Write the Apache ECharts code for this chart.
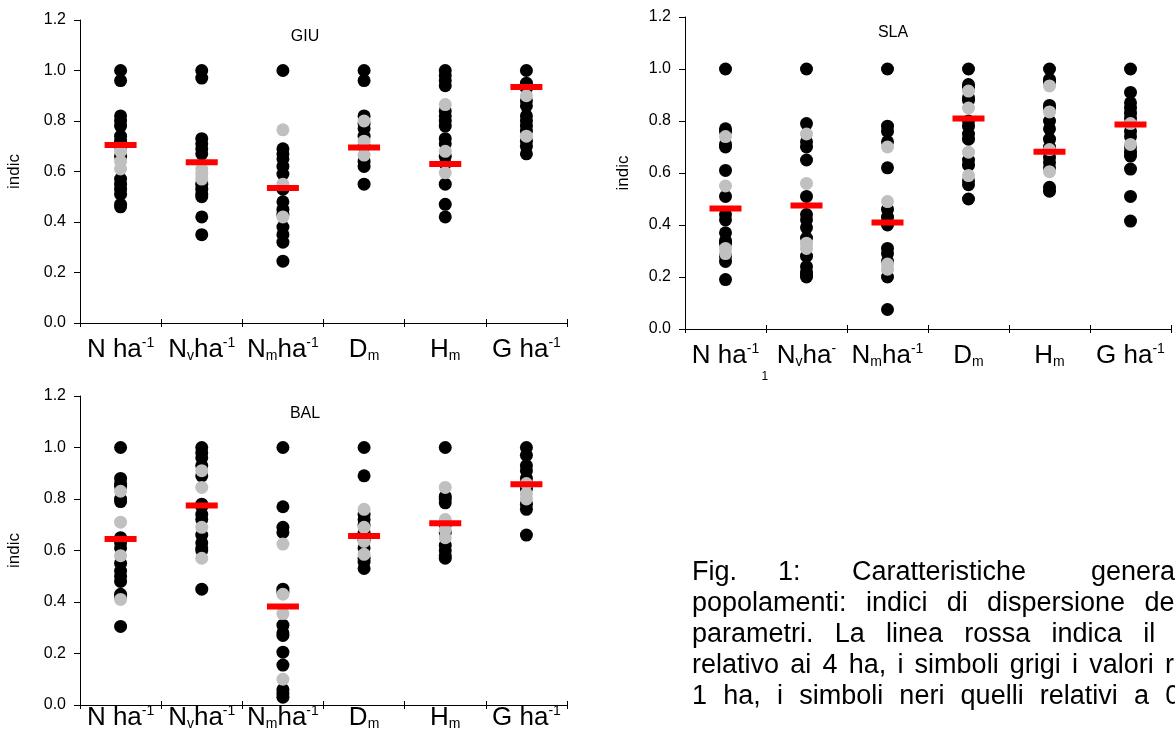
<!DOCTYPE html>
<html>
<head>
<meta charset="utf-8">
<script src="https://cdn.jsdelivr.net/npm/echarts@6/dist/echarts.min.js"></script>
<style>
html, body { margin: 0; padding: 0; background: #fff; overflow: hidden; width: 1175px; height: 733px; }
#chart { position: absolute; left: 0; top: 0; width: 1175px; height: 733px; }
#caption { position: absolute; left: 692px; top: 556px; width: 600px; font-family: "Liberation Sans", Arial, sans-serif; font-size: 27px; line-height: 31px; color: #000; }
#caption .ln { position: relative; height: 31px; white-space: nowrap; }
#caption .w { position: absolute; top: 0; }
</style>
</head>
<body>
<div id="chart"></div>
<div id="caption">
  <div class="ln"><span class="w" style="left:0">Fig.</span><span class="w" style="left:86px">1:</span><span class="w" style="left:160px">Caratteristiche</span><span class="w" style="left:399px">generali</span></div>
  <div class="ln" style="word-spacing:11.8px">popolamenti: indici di dispersione dei</div>
  <div class="ln" style="word-spacing:13.7px">parametri. La linea rossa indica il valore</div>
  <div class="ln" style="word-spacing:3.7px">relativo ai 4 ha, i simboli grigi i valori relativi</div>
  <div class="ln" style="word-spacing:8.7px">1 ha, i simboli neri quelli relativi a 0</div>
</div>
<script>
// ---------- data ----------
const categories = ['N ha-1', 'Nv ha-1', 'Nm ha-1', 'Dm', 'Hm', 'G ha-1'];
const panelTitles = ['GIU', 'SLA', 'BAL'];
const yTickValues = [0, 0.2, 0.4, 0.6, 0.8, 1.0, 1.2];

// GIU (black = 0.25 ha, grey = 1 ha, red = 4 ha)
const giuBlack = [
  [1.0, 0.96, 0.82, 0.80, 0.78, 0.74, 0.72, 0.70, 0.66, 0.57, 0.55, 0.53, 0.51, 0.47, 0.46],
  [1.0, 0.97, 0.73, 0.71, 0.69, 0.67, 0.55, 0.53, 0.51, 0.50, 0.42, 0.35],
  [1.0, 0.69, 0.67, 0.65, 0.62, 0.59, 0.53, 0.48, 0.45, 0.43, 0.38, 0.35, 0.32, 0.245],
  [1.0, 0.96, 0.82, 0.79, 0.77, 0.74, 0.70, 0.64, 0.62, 0.55],
  [1.0, 0.98, 0.96, 0.94, 0.84, 0.82, 0.80, 0.78, 0.73, 0.71, 0.66, 0.63, 0.55, 0.47, 0.42],
  [1.0, 0.95, 0.93, 0.88, 0.86, 0.82, 0.80, 0.78, 0.76, 0.72, 0.70, 0.67]
];
const giuGrey = [
  [0.68, 0.64, 0.61],
  [0.61, 0.59, 0.57],
  [0.765, 0.55, 0.42],
  [0.80, 0.72, 0.665],
  [0.865, 0.68, 0.595],
  [0.90, 0.74]
];
const giuRed = [0.705, 0.637, 0.535, 0.695, 0.630, 0.935];

// SLA
const slaBlack = [
  [1.0, 0.77, 0.76, 0.71, 0.70, 0.61, 0.51, 0.44, 0.42, 0.37, 0.34, 0.33, 0.28, 0.26, 0.19],
  [1.0, 0.79, 0.72, 0.70, 0.65, 0.51, 0.44, 0.42, 0.39, 0.35, 0.28, 0.24, 0.22, 0.21, 0.20],
  [1.0, 0.78, 0.76, 0.72, 0.62, 0.46, 0.43, 0.40, 0.31, 0.29, 0.26, 0.20, 0.075],
  [1.0, 0.94, 0.93, 0.89, 0.88, 0.80, 0.78, 0.75, 0.73, 0.65, 0.63, 0.57, 0.555, 0.50],
  [1.0, 0.96, 0.95, 0.86, 0.85, 0.80, 0.77, 0.73, 0.70, 0.66, 0.64, 0.62, 0.545, 0.53],
  [1.0, 0.91, 0.87, 0.85, 0.83, 0.81, 0.76, 0.74, 0.70, 0.68, 0.665, 0.615, 0.51, 0.415]
];
const slaGrey = [
  [0.74, 0.55, 0.31, 0.29],
  [0.75, 0.56, 0.33, 0.31],
  [0.70, 0.49, 0.25, 0.23],
  [0.915, 0.85, 0.68, 0.59],
  [0.935, 0.835, 0.69, 0.605],
  [0.79, 0.71]
];
const slaRed = [0.463, 0.475, 0.410, 0.810, 0.682, 0.787];

// BAL
const balBlack = [
  [1.0, 0.88, 0.86, 0.85, 0.80, 0.79, 0.65, 0.63, 0.61, 0.55, 0.52, 0.50, 0.48, 0.43, 0.42, 0.305],
  [1.0, 0.98, 0.96, 0.93, 0.89, 0.78, 0.77, 0.74, 0.72, 0.66, 0.63, 0.61, 0.60, 0.45],
  [1.0, 0.77, 0.69, 0.67, 0.45, 0.44, 0.31, 0.28, 0.27, 0.205, 0.155, 0.06, 0.045, 0.03],
  [1.0, 0.89, 0.74, 0.72, 0.70, 0.67, 0.64, 0.61, 0.57, 0.555, 0.53],
  [1.0, 0.81, 0.80, 0.785, 0.70, 0.67, 0.62, 0.60, 0.58, 0.57],
  [1.0, 0.97, 0.93, 0.91, 0.88, 0.86, 0.84, 0.78, 0.76, 0.66]
];
const balGrey = [
  [0.83, 0.71, 0.58, 0.41],
  [0.91, 0.845, 0.69, 0.57],
  [0.625, 0.43, 0.355, 0.10],
  [0.76, 0.69, 0.635, 0.585],
  [0.845, 0.72, 0.68, 0.65],
  [0.86, 0.82, 0.80]
];
const balRed = [0.645, 0.775, 0.383, 0.656, 0.706, 0.857];

// category label markup (sub/superscripts)
const labelsStd = ['{n|N ha}{p|-1}', '{n|N}{s|v}{n|ha}{p|-1}', '{n|N}{s|m}{n|ha}{p|-1}', '{n|D}{s|m}', '{n|H}{s|m}', '{n|G ha}{p|-1}'];
const labelsSla = ['{n|N ha}{p|-1}', '{n|N}{s|v}{n|ha}{p|-}\n{q|1}', '{n|N}{s|m}{n|ha}{p|-1}', '{n|D}{s|m}', '{n|H}{s|m}', '{n|G ha}{p|-1}'];

// ---------- chart ----------
const FONT = "'Liberation Sans', Arial, sans-serif";
const NARROW = "'Liberation Sans Narrow', 'Liberation Sans', Arial, sans-serif";
const AXIS_COLOR = '#000';

const grids = [
  { left: 80, top: 20, width: 487, height: 303 },
  { left: 685, top: 17, width: 486, height: 312 },
  { left: 80, top: 396, width: 487, height: 309 }
];
const labelMargins = [12, 12, -2];
const labelSets = [labelsStd, labelsSla, labelsStd];
const blacks = [giuBlack, slaBlack, balBlack];
const greys = [giuGrey, slaGrey, balGrey];
const reds = [giuRed, slaRed, balRed];
const titlePos = [[300, 24], [888, 20], [300, 401]];
const nameGaps = [57, 53, 57];

function toPoints(groups) {
  const out = [];
  groups.forEach((vals, i) => vals.forEach(v => out.push([i, v])));
  return out;
}

const rich = {
  n: { fontSize: 26, fontFamily: NARROW, color: '#000', lineHeight: 30 },
  p: { fontSize: 14, fontFamily: NARROW, color: '#000', padding: [0, 0, 14, 0] },
  s: { fontSize: 14, fontFamily: NARROW, color: '#000', padding: [12, 0, 0, 0] },
  q: { fontSize: 12, fontFamily: NARROW, color: '#000', width: 90, align: 'left', lineHeight: 12 }
};

const xAxes = [], yAxes = [], series = [], titles = [];
grids.forEach((g, k) => {
  xAxes.push({
    gridIndex: k, type: 'category', data: categories, boundaryGap: true,
    axisLine: { lineStyle: { color: AXIS_COLOR, width: 1 } },
    axisTick: { show: true, length: 4, inside: false, lineStyle: { color: AXIS_COLOR } },
    axisLabel: {
      interval: 0, margin: labelMargins[k], hideOverlap: false,
      formatter: (val, idx) => labelSets[k][idx],
      rich: rich
    }
  });
  xAxes.push({
    gridIndex: k, type: 'category', data: categories, boundaryGap: true, position: 'bottom',
    axisLine: { show: false },
    axisTick: { show: true, length: 4, inside: true, lineStyle: { color: AXIS_COLOR } },
    axisLabel: { show: false }
  });
  yAxes.push({
    gridIndex: k, type: 'value', min: yTickValues[0], max: yTickValues[yTickValues.length - 1], interval: 0.2,
    splitLine: { show: false },
    axisLine: { show: true, lineStyle: { color: AXIS_COLOR, width: 1 } },
    axisTick: { show: true, length: 6, lineStyle: { color: AXIS_COLOR } },
    axisLabel: { margin: 14, fontSize: 16, fontFamily: FONT, color: '#000', formatter: v => v.toFixed(1) },
    name: 'indic', nameLocation: 'middle', nameGap: nameGaps[k], nameRotate: 90,
    nameTextStyle: { fontSize: 17, fontFamily: FONT, color: '#000' }
  });
  titles.push({
    text: panelTitles[k], left: titlePos[k][0], top: titlePos[k][1], textAlign: 'center',
    textStyle: { fontSize: 16, fontWeight: 'normal', fontFamily: FONT, color: '#000' }
  });
  series.push({
    type: 'scatter', xAxisIndex: 2 * k, yAxisIndex: k, symbol: 'circle', symbolSize: 13,
    itemStyle: { color: '#000', opacity: 1 }, data: toPoints(blacks[k]), z: 2
  });
  series.push({
    type: 'scatter', xAxisIndex: 2 * k, yAxisIndex: k, symbol: 'circle', symbolSize: 13,
    itemStyle: { color: '#c0c0c0', opacity: 1 }, data: toPoints(greys[k]), z: 3
  });
  series.push({
    type: 'scatter', xAxisIndex: 2 * k, yAxisIndex: k, symbol: 'rect', symbolSize: [32, 6],
    itemStyle: { color: '#ff0000', opacity: 1 }, data: reds[k].map((v, i) => [i, v]), z: 4
  });
});

const chart = echarts.init(document.getElementById('chart'), null, { renderer: 'canvas' });
chart.setOption({
  animation: false,
  backgroundColor: '#fff',
  title: titles,
  grid: grids.map(g => Object.assign({ containLabel: false }, g)),
  xAxis: xAxes,
  yAxis: yAxes,
  series: series
});
</script>
</body>
</html>
